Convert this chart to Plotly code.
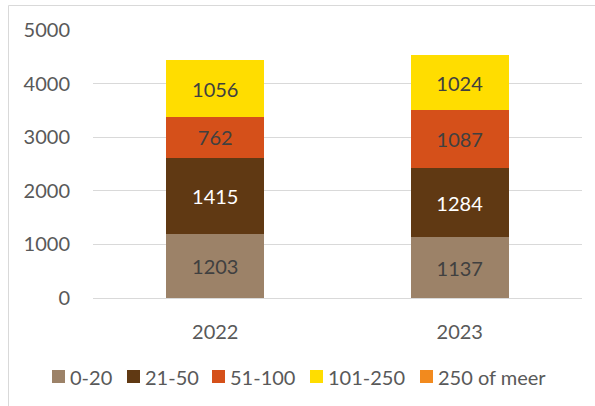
import plotly.graph_objects as go

years = ["2022", "2023"]
series_names = ["0-20", "21-50", "51-100", "101-250", "250 of meer"]
v_0_20 = [1203, 1137]
v_21_50 = [1415, 1284]
v_51_100 = [762, 1087]
v_101_250 = [1056, 1024]
v_250_meer = [0, 0]
y_ticks = [0, 1000, 2000, 3000, 4000, 5000]

colors = ["#9C8268", "#603913", "#D5501A", "#FFDD00", "#F28A1E"]
text_colors = ["#404040", "#FFFFFF", "#404040", "#404040", "#404040"]
values = [v_0_20, v_21_50, v_51_100, v_101_250, v_250_meer]

FONT = "Lato, 'Open Sans', sans-serif"
FS = 20
W, H = 595, 406
ML, MR, MT, MB = 93, 13, 30, 108
PW, PH = W - ML - MR, H - MT - MB


def px_x(x):
    return (x - ML) / PW


def px_y(y):
    return (H - MB - y) / PH


fig = go.Figure()
for name, vals, col, tc in zip(series_names, values, colors, text_colors):
    fig.add_trace(go.Bar(
        x=years, y=vals, name=name,
        marker=dict(color=col, line=dict(width=0)),
        text=[str(v) if v > 0 else "" for v in vals],
        textposition="inside", insidetextanchor="middle",
        textfont=dict(color=tc, size=FS, family=FONT),
        textangle=0,
        hoverinfo="skip",
        showlegend=False,
    ))

# legend (drawn manually to match the compact spacing of the reference)
legend_sq_left = [52, 127, 212, 310, 420]
shapes = [dict(type="rect", xref="paper", yref="paper",
               x0=px_x(8.5), x1=px_x(W + 10), y0=px_y(H + 10), y1=px_y(5.5),
               line=dict(color="#D9D9D9", width=1), fillcolor="rgba(0,0,0,0)", layer="above")]
annotations = []
for name, col, xl in zip(series_names, colors, legend_sq_left):
    shapes.append(dict(type="rect", xref="paper", yref="paper",
                       x0=px_x(xl), x1=px_x(xl + 13), y0=px_y(383), y1=px_y(370),
                       line=dict(width=0), fillcolor=col))
    annotations.append(dict(text=name, xref="paper", yref="paper", x=px_x(xl + 16), y=px_y(377),
                            xanchor="left", yanchor="middle", showarrow=False,
                            font=dict(family=FONT, size=FS, color="#595959")))

fig.update_layout(
    barmode="stack",
    bargap=0.6,
    width=W, height=H,
    margin=dict(l=ML, r=MR, t=MT, b=MB, autoexpand=False),
    paper_bgcolor="white", plot_bgcolor="white",
    font=dict(family=FONT, color="#595959", size=FS),
    uniformtext=dict(minsize=10, mode="show"),
    showlegend=False,
    xaxis=dict(showgrid=False, showline=False, ticks="", tickfont=dict(size=FS, color="#595959"),
               ticklabelstandoff=20),
    yaxis=dict(range=[0, 5000], tickvals=y_ticks, showgrid=True, gridcolor="#D9D9D9",
               gridwidth=1, zeroline=True, zerolinecolor="#D9D9D9", zerolinewidth=1,
               showline=False, ticks="", tickfont=dict(size=FS, color="#595959"),
               ticklabelstandoff=22),
    shapes=shapes,
    annotations=annotations,
)

fig.write_html("out.html", config={"displayModeBar": False},
               post_script="document.body.style.margin='0';document.body.style.padding='0';")
